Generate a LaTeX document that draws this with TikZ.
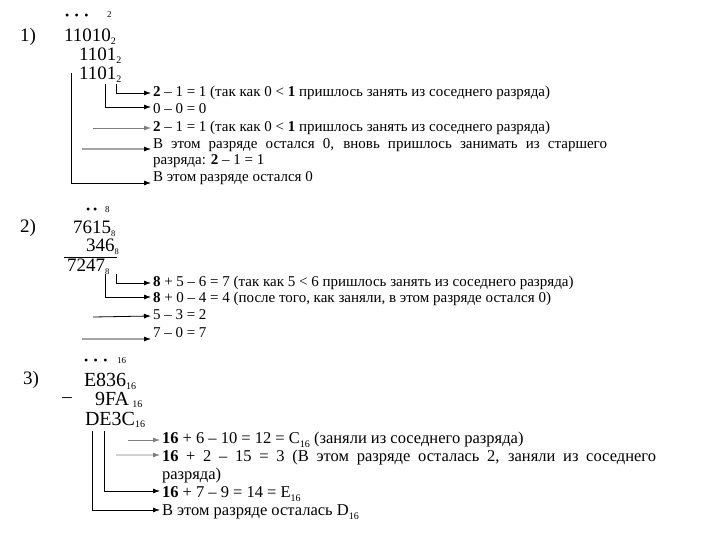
\documentclass[tikz,border=0pt]{standalone}
\usepackage{fontspec}
\setmainfont{Liberation Serif}
\usetikzlibrary{arrows.meta}
\newcommand{\bsub}[1]{\raisebox{-0.14em}{\fontsize{10bp}{10bp}\selectfont #1}}
\newcommand{\ssub}[1]{\raisebox{-0.14em}{\fontsize{8.5bp}{9bp}\selectfont #1}}
\newcommand{\tsub}[1]{\raisebox{-0.2em}{\fontsize{10bp}{10bp}\selectfont #1}}
\newcommand{\bigf}{\fontsize{19bp}{21bp}\selectfont}
\newcommand{\dotf}{\fontsize{12bp}{12bp}\selectfont}
\newcommand{\dsp}{\hspace{5.5bp}}
\begin{document}
\begin{tikzpicture}[x=1bp,y=-1bp,
  every node/.style={inner sep=0pt,outer sep=0pt,font=\fontsize{15bp}{17bp}\selectfont},
  txt/.style={anchor=west,text height=10.5bp,text depth=3bp},
  txtc/.style={txt,font=\fontsize{16.5bp}{18bp}\selectfont},
  num/.style={anchor=west,font=\bigf},
  lbl/.style={font=\bigf},
  dts/.style={anchor=west,font=\dotf},
  idx/.style={anchor=west,font=\fontsize{9bp}{9bp}\selectfont},
  conn/.style={line width=0.8bp,-{Latex[length=7bp,width=5bp]}},
  pale/.style={conn,draw=black!50},
  rule/.style={line width=0.8bp}]
\useasboundingbox (0,0) rectangle (720,540);
\fill[white] (0,0) rectangle (720,540);

% ---------- 1)
\node[lbl] (p1) at (28,37) {1)};
\node[dts] (d1) at (65,17) {•\dsp•\dsp•};
\node[idx] (e1) at (107,15) {2};
\node[num] (a1) at (64,37) {11010\bsub{2}};
\node[num] (b1) at (79,56) {1101\bsub{2}};
\node[num] (r1) at (79,75) {1101\bsub{2}};

\node[txt] (t1) at (153,93) {\textbf{2} – 1 = 1 (так как 0 < \textbf{1} пришлось занять из соседнего разряда)};
\node[txt] (t2) at (153,110) {0 – 0 = 0};
\node[txt] (t3) at (153,128) {\textbf{2} – 1 = 1 (так как 0 < \textbf{1} пришлось занять из соседнего разряда)};
\node[txt] (t4) at (153,145) {\makebox[454bp][s]{В этом разряде остался 0, вновь пришлось занимать из старшего}};
\node[txt] (t5) at (153,161) {разряда: \textbf{2} – 1 = 1};
\node[txt] (t6) at (153,178) {В этом разряде остался 0};

\coordinate (c11) at (116,84);
\coordinate (c12) at (105,84);
\coordinate (c13) at (93,128);
\coordinate (c14) at (82,149);
\coordinate (c15) at (71,73);
\draw[conn] (c11) |- ([xshift=-2bp]t1.west);
\draw[conn] (c12) |- ([xshift=-2bp,yshift=3bp]t2.west);
\draw[pale] (c13) -- ([xshift=-2bp]t3.west);
\draw[conn] (c14) -- ([xshift=-2bp,yshift=-4bp]t4.west);
\draw[conn] (c15) |- ([xshift=-2bp,yshift=-5bp]t6.west);

% ---------- 2)
\node[lbl] (p2) at (28,228) {2)};
\node[dts] (d2) at (86,211) {•\hspace{3bp}•};
\node[idx] (e2) at (105,210) {8};
\node[num] (a2) at (73,229) {7615\ssub{8}};
\node[num] (b2) at (86,247) {346\ssub{8}};
\coordinate (l2a) at (64,257);
\coordinate (l2b) at (117,257);
\draw[rule] (l2a) -- (l2b);
\node[num] (r2) at (67,267) {7247\ssub{8}};

\node[txt] (t7) at (153,283) {\textbf{8} + 5 – 6 = 7 (так как 5 < 6 пришлось занять из соседнего разряда)};
\node[txt] (t8) at (153,299) {\textbf{8} + 0 – 4 = 4 (после того, как заняли, в этом разряде остался 0)};
\node[txt] (t9) at (153,316) {5 – 3 = 2};
\node[txt] (t10) at (153,334) {7 – 0 = 7};

\coordinate (c21) at (116,274);
\coordinate (c22) at (105,274);
\coordinate (c23) at (93,317);
\coordinate (c24) at (82,339);
\draw[conn] (c21) |- ([xshift=-2bp]t7.west);
\draw[conn] (c22) |- ([xshift=-2bp,yshift=2bp]t8.west);
\draw[conn] (c23) -- ([xshift=-2bp]t9.west);
\draw[conn] (c24) -- ([xshift=-2bp,yshift=-5bp]t10.west);

% ---------- 3)
\node[lbl] (p3) at (31,380) {3)};
\node[dts] (d3) at (84,362) {•\dsp•\dsp•};
\node[idx] (e3) at (117,361) {16};
\node[num,font=\fontsize{20bp}{22bp}\selectfont] (a3) at (84,381) {E836\bsub{16}};
\node[lbl] (m3) at (67,400) {–};
\node[num,font=\fontsize{20bp}{22bp}\selectfont] (b3) at (95,400) {9FA\,\bsub{16}};
\node[num,font=\fontsize{20bp}{22bp}\selectfont] (r3) at (85,420) {DE3C\bsub{16}};

\node[txtc] (t11) at (162,440) {\textbf{16} + 6 – 10 = 12 = C\tsub{16} (заняли из соседнего разряда)};
\node[txtc] (t12) at (162,458) {\makebox[494bp][s]{\textbf{16} + 2 – 15 = 3 (В этом разряде осталась 2, заняли из соседнего}};
\node[txtc] (t13) at (162,476) {разряда)};
\node[txtc] (t14) at (162,494) {\textbf{16} + 7 – 9 = 14 = E\tsub{16}};
\node[txtc] (t15) at (162,512) {В этом разряде осталась D\tsub{16}};

\coordinate (c31) at (128,440);
\coordinate (c32) at (116,455);
\coordinate (c33) at (104,431);
\coordinate (c34) at (92,431);
\draw[pale] (c31) -- ([xshift=-2bp]t11.west);
\draw[pale] (c32) -- ([xshift=-2bp,yshift=3bp]t12.west);
\draw[conn] (c33) |- ([xshift=-2bp,yshift=3bp]t14.west);
\draw[conn] (c34) |- ([xshift=-2bp,yshift=2bp]t15.west);
\end{tikzpicture}
\end{document}
